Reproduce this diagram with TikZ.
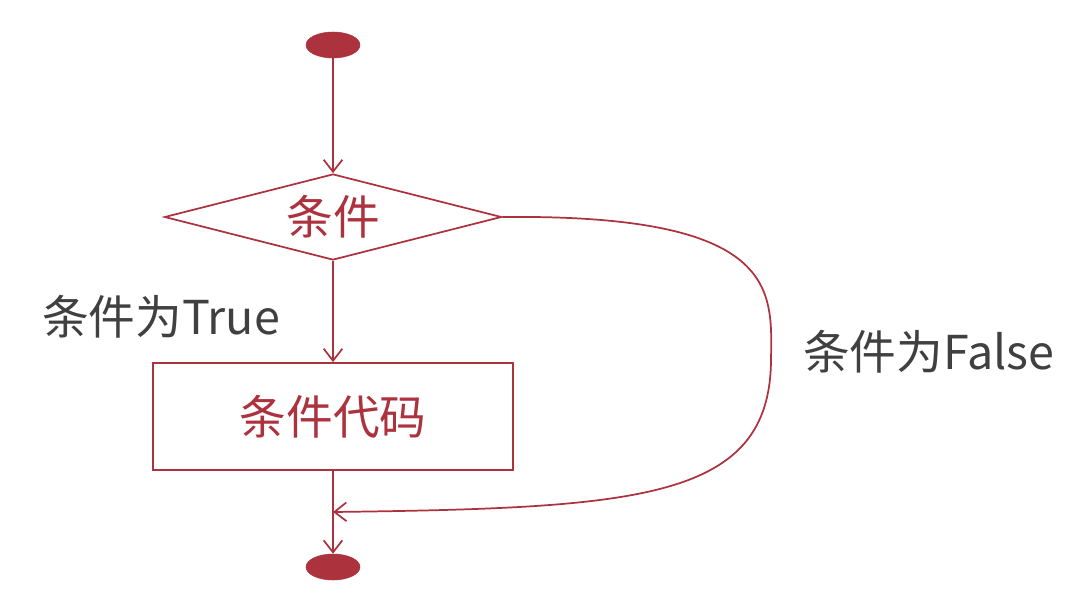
\documentclass[tikz,border=0pt]{standalone}
\usepackage{fontspec}
\setmainfont{Noto Sans CJK SC}
\usetikzlibrary{arrows.meta,shapes.geometric}
\definecolor{dred}{RGB}{172,50,62}
\definecolor{tgrey}{RGB}{64,64,64}
\begin{document}
\begin{tikzpicture}[x=0.75pt,y=-0.75pt,
  line/.style={draw=dred,line width=1.3pt},
  arr/.style={line,-{Straight Barb[length=9pt,width=14pt,line width=1.3pt]}},
  term/.style={ellipse,fill=dred,draw=dred,minimum width=40.5pt,minimum height=19.5pt,inner sep=0pt},
  dec/.style={diamond,line,aspect=3.92,minimum width=252.75pt,minimum height=64.5pt,inner sep=0pt,text=dred,font=\fontsize{35pt}{40pt}\selectfont},
  proc/.style={rectangle,line,minimum width=270pt,minimum height=80.25pt,inner sep=0pt,text=dred,font=\fontsize{35pt}{40pt}\selectfont},
  lbl/.style={text=tgrey,font=\fontsize{35pt}{40pt}\selectfont,inner sep=0pt}]
\useasboundingbox (0,0) rectangle (1080,593);
\node[term] (start) at (333,45) {};
\node[dec] (cond) at (333,217) {条件};
\node[proc] (code) at (333,416.5) {条件代码};
\node[term] (stop) at (333,567) {};
\coordinate (m) at (333,512);
\draw[arr] (start) -- (cond.north);
\draw[arr] (cond.south) -- (code.north);
\draw[arr] (code.south) -- (stop.north);
\draw[arr] (cond.east) .. controls (780,214) and (772,290) .. (771,360)
  .. controls (770,500) and (640,508) .. (m);
\node[lbl,anchor=west] (t) at (42,317) {条件为True};
\node[lbl,anchor=west] (f) at (803,352) {条件为False};
\end{tikzpicture}
\end{document}
